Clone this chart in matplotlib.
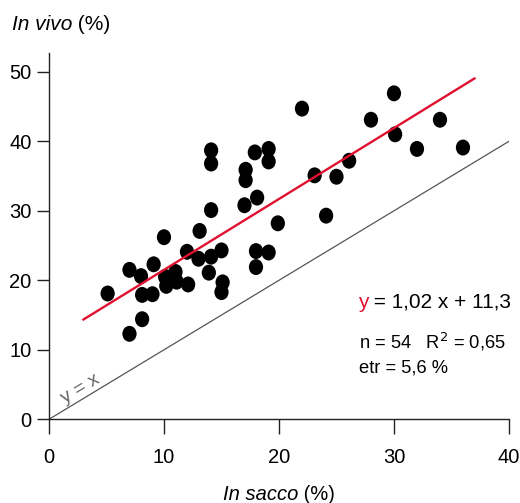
import matplotlib
matplotlib.use("Agg")
import numpy as np
import matplotlib.pyplot as plt
from matplotlib.markers import MarkerStyle
from matplotlib.transforms import Affine2D

plt.rcParams["font.family"] = ["Liberation Sans", "DejaVu Sans"]

# In sacco vs in vivo values (%)
in_sacco = [22.0, 14.1, 14.1, 17.9, 19.1, 19.1, 17.1, 17.1, 14.1, 18.1,
            17.0, 19.9, 10.0, 13.1, 12.0, 13.0, 14.1, 15.0, 18.0, 19.1,
            18.0, 13.9, 15.1, 15.0, 11.0, 10.1, 11.1, 10.2, 12.1, 9.1,
            8.0, 7.0, 8.1, 9.0, 5.1, 8.1, 7.0,
            30.0, 28.0, 34.0, 30.1, 32.0, 36.0, 26.1, 23.1, 25.0, 24.1]
in_vivo = [44.7, 38.7, 36.8, 38.4, 38.9, 37.1, 35.9, 34.4, 30.1, 31.9,
           30.8, 28.2, 26.2, 27.1, 24.1, 23.1, 23.4, 24.3, 24.2, 24.0,
           21.9, 21.1, 19.7, 18.3, 21.2, 20.5, 19.8, 19.2, 19.4, 22.3,
           20.6, 21.5, 17.9, 18.0, 18.1, 14.4, 12.3,
           46.9, 43.1, 43.1, 41.0, 38.9, 39.1, 37.2, 35.1, 34.9, 29.3]

slope = 1.02
intercept = 11.3
fit_range = [3, 37]
x_ticks = [0, 10, 20, 30, 40]
y_ticks = [0, 10, 20, 30, 40, 50]

RED = "#e0102f"

fig = plt.figure(figsize=(5.2, 5.03), dpi=100)
ax = fig.add_axes([0.0942, 0.1664, 0.8846, 0.7282])

# y = x reference line
ax.plot([0, 40], [0, 40], color="#555555", lw=0.9, zorder=1)
ax.text(2.7, 4.4, "y = x", rotation=31, color="#666666", fontsize=14,
        ha="center", va="center", rotation_mode="anchor")

# points, drawn as slightly tall ellipses
mk = MarkerStyle("o", transform=Affine2D().scale(1.0, 1.12))
ax.scatter(in_sacco, in_vivo, s=105, marker=mk, color="black",
           edgecolors="none", zorder=3)

# regression line
fx = np.array(fit_range)
ax.plot(fx, slope * fx + intercept, color=RED, lw=1.7, zorder=4)

ax.set_xlim(0, 40)
ax.set_ylim(0, 52.7)
ax.set_xticks(x_ticks)
ax.set_yticks(y_ticks)
for s in ["top", "right"]:
    ax.spines[s].set_visible(False)
for s in ["left", "bottom"]:
    ax.spines[s].set_linewidth(1.0)
    ax.spines[s].set_color("#222222")
ax.tick_params(axis="x", length=10.5, width=1.0, pad=10, labelsize=14.5,
               color="#222222")
ax.tick_params(axis="y", length=8.6, width=1.0, pad=4, labelsize=14.5,
               color="#222222")

# axis titles: italic part followed by the unit
t = fig.text(12 / 520, 1 - 25 / 503, "In vivo", fontsize=15,
             style="italic", ha="left", va="center")
ax.annotate(" (%)", xy=(1, 0.5), xycoords=t, fontsize=15,
            ha="left", va="center")

t = fig.text(223 / 520, 1 - 495 / 503, "In sacco", fontsize=14.5,
             style="italic", ha="left", va="center")
ax.annotate(" (%)", xy=(1, 0.5), xycoords=t, fontsize=14.5,
            ha="left", va="center")

# equation and fit statistics
t = fig.text(358 / 520, 1 - 308 / 503, "y", color=RED, fontsize=15,
             ha="left", va="baseline")
ax.annotate(" = 1,02 x + 11,3", xy=(1, 0), xycoords=t, fontsize=15,
            ha="left", va="bottom")
fig.text(359 / 520, 1 - 342 / 503, "n = 54   R$^2$ = 0,65", fontsize=13.2,
         ha="left", va="center")
fig.text(359 / 520, 1 - 368 / 503, "etr = 5,6 %", fontsize=13.2,
         ha="left", va="center")

fig.savefig("out.png", dpi=100)
